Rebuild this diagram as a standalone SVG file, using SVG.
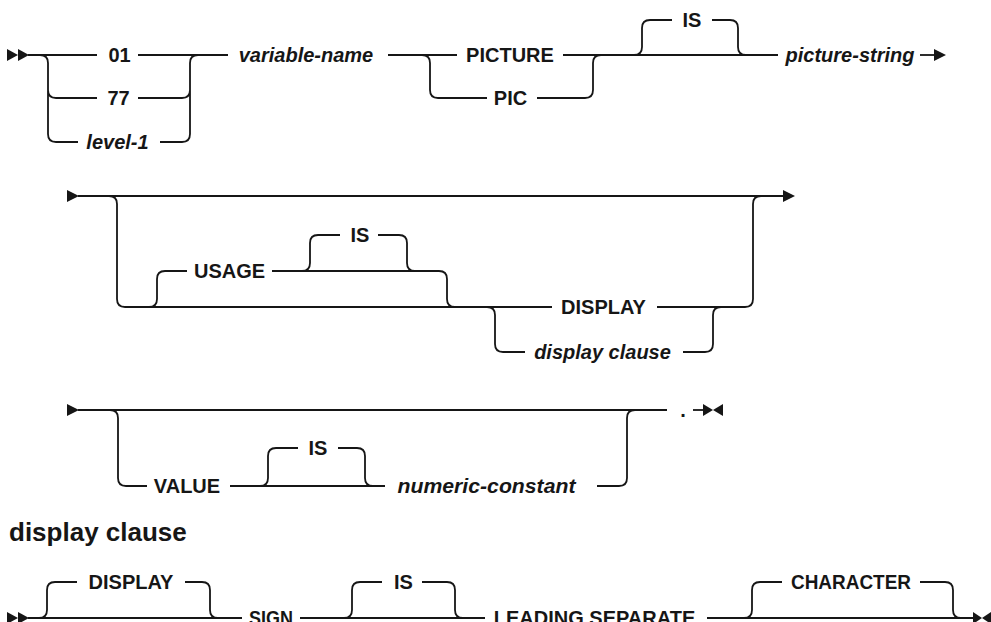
<svg xmlns="http://www.w3.org/2000/svg" width="991" height="622" viewBox="0 0 991 622">
<style>
.c{fill:none;stroke:#161616;stroke-width:1.8}
.a{fill:#161616;stroke:none}
text{font-family:"Liberation Sans",Arial,sans-serif;font-size:20px;font-weight:bold;fill:#161616}
.m{text-anchor:middle}
.i{font-style:italic}
.h{font-size:26px}
</style>
<rect width="991" height="622" fill="#fff"/>
<g id="connectors">
<!-- row 1 -->
<polygon class="a" points="7,49 18,55 7,61"/>
<polygon class="a" points="18,49 29,55 18,61"/>
<path class="c" d="M28,55 H97 M138,55 H228 M388,55 H457 M563,55 H778"/>
<path class="c" d="M40,55 Q48,55 48,63 V134 Q48,142 56,142 H78 M48,90 Q48,98 56,98 H97"/>
<path class="c" d="M138,98 H182 Q190,98 190,90 M160,142 H182 Q190,142 190,134 V63 Q190,55 198,55"/>
<path class="c" d="M422,55 Q430,55 430,63 V90 Q430,98 438,98 H487 M537,98 H585 Q593,98 593,90 V63 Q593,55 601,55"/>
<path class="c" d="M634,55 Q642,55 642,47 V28 Q642,20 650,20 H672 M712,20 H730 Q738,20 738,28 V47 Q738,55 746,55"/>
<path class="c" d="M920,55 H936"/>
<polygon class="a" points="934,49 946,55 934,61"/>
<!-- row 2 -->
<polygon class="a" points="67,190 79,196 67,202"/>
<path class="c" d="M78,196 H784"/>
<polygon class="a" points="783,190 795,196 783,202"/>
<path class="c" d="M109,196 Q117,196 117,204 V299 Q117,307 125,307 H552 M657,307 H745 Q753,307 753,299 V204 Q753,196 761,196"/>
<path class="c" d="M149,307 Q157,307 157,299 V279 Q157,271 165,271 H187 M272,271 H439 Q447,271 447,279 V299 Q447,307 455,307"/>
<path class="c" d="M302,271 Q310,271 310,263 V243 Q310,235 318,235 H340 M378,235 H399 Q407,235 407,243 V263 Q407,271 415,271"/>
<path class="c" d="M487,307 Q495,307 495,315 V344 Q495,352 503,352 H525 M683,352 H705 Q713,352 713,344 V315 Q713,307 721,307"/>
<!-- row 3 -->
<polygon class="a" points="67,404 79,410 67,416"/>
<path class="c" d="M78,410 H667"/>
<path class="c" d="M110,410 Q118,410 118,418 V478 Q118,486 126,486 H147 M230,486 H385"/>
<path class="c" d="M260,486 Q268,486 268,478 V456 Q268,448 276,448 H298 M338,448 H357 Q365,448 365,456 V478 Q365,486 373,486"/>
<path class="c" d="M597,486 H619 Q627,486 627,478 V418 Q627,410 635,410"/>
<path class="c" d="M693,410 H704"/>
<polygon class="a" points="703,404 713,410 703,416"/>
<polygon class="a" points="723,404 713,410 723,416"/>
<!-- row 4 -->
<polygon class="a" points="7,612 18,618 7,624"/>
<polygon class="a" points="18,612 29,618 18,624"/>
<path class="c" d="M28,618 H242 M300,618 H485 M707,618 H975"/>
<path class="c" d="M39,618 Q47,618 47,610 V590 Q47,582 55,582 H77 M185,582 H202 Q210,582 210,590 V610 Q210,618 218,618"/>
<path class="c" d="M344,618 Q352,618 352,610 V590 Q352,582 360,582 H382 M422,582 H447 Q455,582 455,590 V610 Q455,618 463,618"/>
<path class="c" d="M744,618 Q752,618 752,610 V590 Q752,582 760,582 H782 M920,582 H945 Q953,582 953,590 V610 Q953,618 961,618"/>
<polygon class="a" points="973,612 982,618 973,624"/>
<polygon class="a" points="991,612 982,618 991,624"/>
</g>
<g id="n01"><text class="m" x="119.5" y="62">01</text></g>
<g id="n77"><text class="m" x="118.5" y="105">77</text></g>
<g id="level1"><text class="m i" x="117.5" y="149">level-1</text></g>
<g id="varname"><text class="m i" x="306" y="62">variable-name</text></g>
<g id="picture"><text class="m" x="510" y="62">PICTURE</text></g>
<g id="pic"><text class="m" x="510.5" y="105">PIC</text></g>
<g id="is1"><text class="m" x="692" y="27">IS</text></g>
<g id="picstring"><text class="m i" x="850" y="62">picture-string</text></g>
<g id="usage"><text class="m" x="229.5" y="278">USAGE</text></g>
<g id="is2"><text class="m" x="360" y="242">IS</text></g>
<g id="display1"><text class="m" x="603.5" y="314">DISPLAY</text></g>
<g id="dispclause"><text class="m i" x="602.5" y="359">display clause</text></g>
<g id="value"><text class="m" x="187" y="493">VALUE</text></g>
<g id="is3"><text class="m" x="318" y="455">IS</text></g>
<g id="numconst"><text class="m i" x="486.5" y="493" textLength="178" lengthAdjust="spacingAndGlyphs">numeric-constant</text></g>
<g id="period"><text class="m" x="683" y="417">.</text></g>
<g id="heading"><text class="h" x="9" y="541">display clause</text></g>
<g id="display2"><text class="m" x="131" y="589">DISPLAY</text></g>
<g id="sign"><text class="m" x="271" y="625" textLength="44" lengthAdjust="spacingAndGlyphs">SIGN</text></g>
<g id="is4"><text class="m" x="403.5" y="589">IS</text></g>
<g id="leading"><text class="m" x="594.5" y="625">LEADING SEPARATE</text></g>
<g id="character"><text class="m" x="851" y="589" textLength="120" lengthAdjust="spacingAndGlyphs">CHARACTER</text></g>
</svg>
